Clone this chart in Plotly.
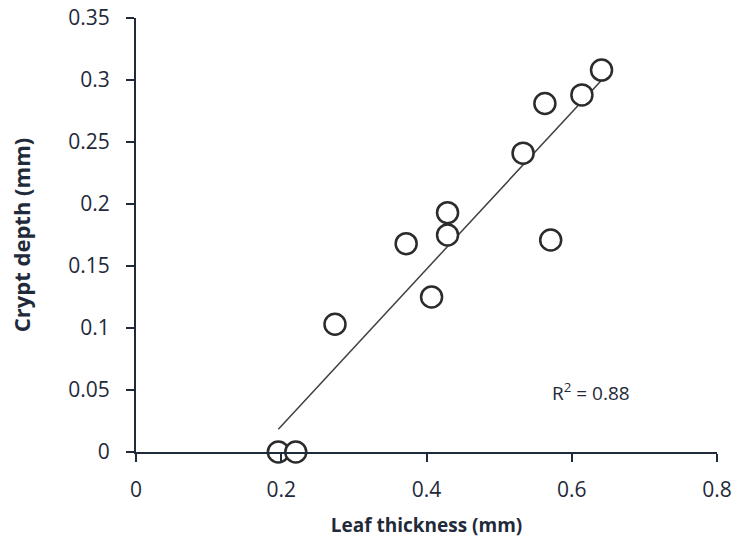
import numpy as np
import plotly.graph_objects as go

leaf_thickness = [0.196, 0.220, 0.274, 0.372, 0.407, 0.429, 0.429, 0.533, 0.563, 0.614, 0.641, 0.571]
crypt_depth = [0.0, 0.0, 0.103, 0.168, 0.125, 0.193, 0.175, 0.241, 0.281, 0.288, 0.308, 0.171]
x_ticks = [0, 0.2, 0.4, 0.6, 0.8]
x_tick_labels = ["0", "0.2", "0.4", "0.6", "0.8"]
y_ticks = [0, 0.05, 0.1, 0.15, 0.2, 0.25, 0.3, 0.35]
y_tick_labels = ["0", "0.05", "0.1", "0.15", "0.2", "0.25", "0.3", "0.35"]
r2_label = "R<sup>2</sup> = 0.88"

slope, intercept = np.polyfit(leaf_thickness, crypt_depth, 1)
fit_x = [min(leaf_thickness), max(leaf_thickness)]
fit_y = [slope * v + intercept for v in fit_x]

ink = "#1f2a3a"
fig = go.Figure()
fig.add_trace(go.Scatter(x=fit_x, y=fit_y, mode="lines",
                         line=dict(color="#404040", width=1.5),
                         hoverinfo="skip", showlegend=False))
fig.add_trace(go.Scatter(x=leaf_thickness, y=crypt_depth, mode="markers",
                         marker=dict(size=21, color="white", symbol="circle",
                                     line=dict(color="#2b2b2b", width=2.5)),
                         cliponaxis=False, showlegend=False))

font_fam = "Open Sans, Liberation Sans, sans-serif"
fig.add_annotation(x=0.626, y=0.048, text=r2_label, showarrow=False,
                   font=dict(family=font_fam, size=19, color=ink))

fig.update_layout(
    width=736, height=542,
    margin=dict(l=136, r=19, t=18, b=90),
    paper_bgcolor="white", plot_bgcolor="white",
    font=dict(family=font_fam, color=ink),
    xaxis=dict(range=[0, 0.8], tickvals=x_ticks, ticktext=x_tick_labels,
               automargin=False,
               showgrid=False, zeroline=False, showline=True,
               linecolor=ink, linewidth=2, ticks="outside",
               ticklen=8, tickwidth=2, tickcolor=ink,
               ticklabelstandoff=10, ticklabeloverflow="allow",
               tickfont=dict(size=21, color=ink),
               title=dict(text="<b>Leaf thickness (mm)</b>",
                          font=dict(size=19, color=ink), standoff=16)),
    yaxis=dict(range=[0, 0.35], tickvals=y_ticks, ticktext=y_tick_labels,
               automargin=False,
               showgrid=False, zeroline=False, showline=True,
               linecolor=ink, linewidth=2, ticks="outside",
               ticklen=8, tickwidth=2, tickcolor=ink,
               ticklabelstandoff=12, ticklabeloverflow="allow",
               tickfont=dict(size=21, color=ink),
               title=dict(text="<b>Crypt depth (mm)</b>",
                          font=dict(size=22, color=ink), standoff=32)),
)

fig.write_html("out.html",
               config={"displayModeBar": False},
               post_script="document.body.style.margin='0';document.body.style.overflow='hidden';")
